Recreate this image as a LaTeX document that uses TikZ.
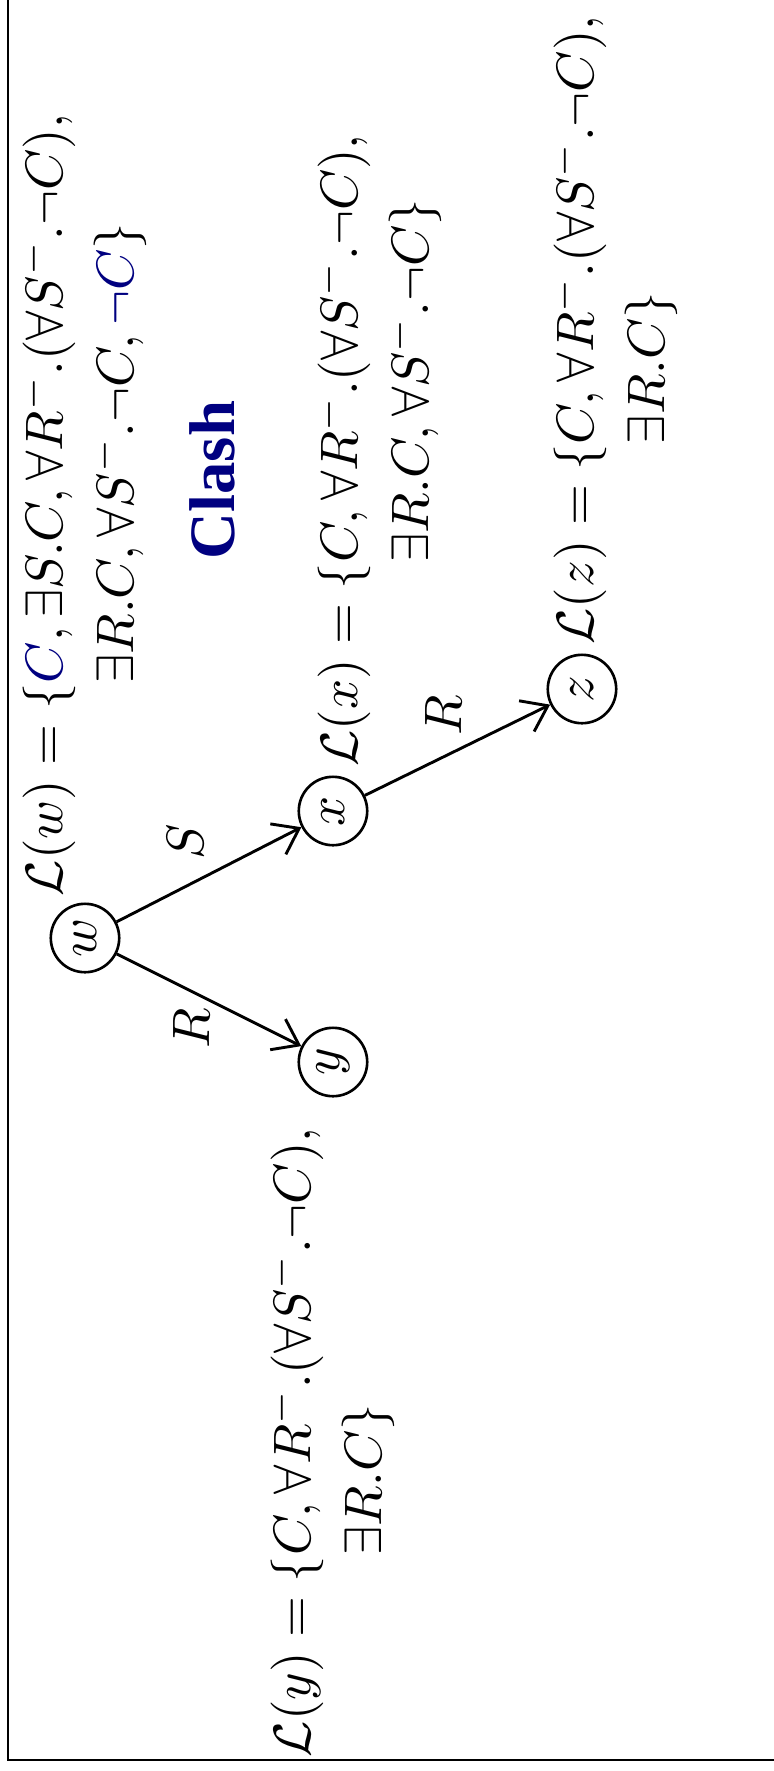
\documentclass[tikz,border=0pt]{standalone}
\usepackage{fontspec}
\newfontfamily\clashfont{Liberation Serif}
\usepackage{amsmath, amssymb}
\usepackage{graphicx}
\usepackage{xcolor}
\usetikzlibrary{arrows.meta, positioning}
\definecolor{navy}{RGB}{0,0,128}
\newcommand{\rot}[1]{\rotatebox{90}{#1}}
\newcommand{\Lab}{\mathcal{L}}

\begin{document}
\begin{tikzpicture}[
            x=0.19pt, y=-0.19pt,
            state/.style={draw, circle, minimum size=13pt, inner sep=0pt, line width=0.5pt},
            lab/.style={inner sep=0pt},
            arr/.style={-{Straight Barb[length=4.5pt, width=6.5pt]}, line width=0.55pt}
        ]
            \useasboundingbox (0,0) rectangle (774,1771);
            \clip (0,0) rectangle (774,1771);
            \draw[line width=0.5pt] (8,-50) rectangle (850,1760);

            \node[state] (w) at (85,938) {\rot{$w$}};
            \node[state] (x) at (333,811) {\rot{$x$}};
            \node[state] (y) at (333,1062) {\rot{$y$}};
            \node[state] (z) at (582,689) {\rot{$z$}};

            \node[lab, anchor=south, yshift=1pt] (lw) at (w.north) {\rot{\begin{tabular}{@{}l@{}l@{}}
                $\Lab(w) = \{$ & $\textcolor{navy}{C}, \exists S.C, \forall R^{-}.(\forall S^{-}.\neg C),$\\[1.5pt]
                & $\exists R.C, \forall S^{-}.\neg C, \textcolor{navy}{\neg C}\}$
            \end{tabular}}};
            \node[lab, anchor=south, xshift=9pt, yshift=1.5pt] (lx) at (x.north) {\rot{\begin{tabular}{@{}l@{}l@{}}
                $\Lab(x) = \{$ & $C, \forall R^{-}.(\forall S^{-}.\neg C),$\\[1.5pt]
                & $\exists R.C, \forall S^{-}.\neg C\}$
            \end{tabular}}};
            \node[lab, anchor=south, xshift=6.5pt, yshift=1.5pt] (lz) at (z.north) {\rot{\begin{tabular}{@{}l@{}l@{}}
                $\Lab(z) = \{$ & $C, \forall R^{-}.(\forall S^{-}.\neg C),$\\[1.5pt]
                & $\exists R.C\}$
            \end{tabular}}};
            \node[lab, anchor=north, yshift=-5.5pt] (ly) at (y.south) {\rot{\begin{tabular}{@{}l@{}l@{}}
                $\Lab(y) = \{$ & $C, \forall R^{-}.(\forall S^{-}.\neg C),$\\[1.5pt]
                & $\exists R.C\}$
            \end{tabular}}};

            \node[text=navy, font=\clashfont\bfseries\fontsize{12.3}{14}\selectfont] (clash) at (212,480) {\rot{Clash}};

            \draw[arr] (w) -- node[shift={(-23,-33)}] {\rot{$S$}} (x);
            \draw[arr] (w) -- node[shift={(-17,28)}] {\rot{$R$}} (y);
            \draw[arr] (x) -- node[shift={(-14,-35)}] {\rot{$R$}} (z);
        \end{tikzpicture}
\end{document}
